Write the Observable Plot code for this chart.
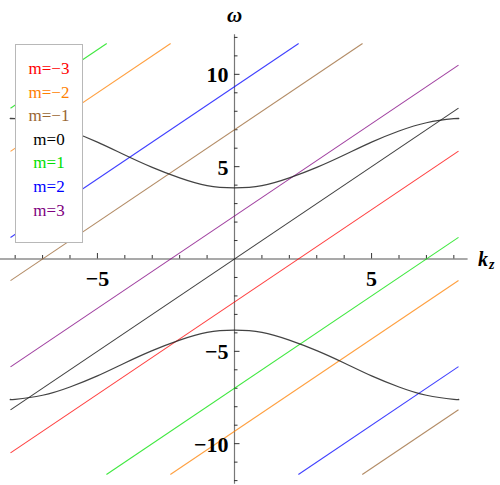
<!DOCTYPE html>
<html><head><meta charset="utf-8">
<script src="https://cdn.jsdelivr.net/npm/d3@7"></script>
<script src="https://cdn.jsdelivr.net/npm/@observablehq/plot@0.6"></script>
<style>
body{margin:0;background:#fff;}
#wrap{position:relative;width:500px;height:485px;overflow:hidden;}
#legend{position:absolute;left:15px;top:44px;width:68px;height:199px;border:1px solid #b8b8b8;background:#fff;
font-family:"Liberation Serif","DejaVu Serif",serif;font-size:17px;text-align:center;padding-top:12px;box-sizing:border-box;}
#legend div{height:23.6px;line-height:23.6px;}
</style></head><body><div id="wrap"></div>
<script>
// ranges
const kRange = [-8.17, 8.17];
const wRange = [-11.67, 11.67];
const xAxisExtent = [-9, 8.52];
const yAxisExtent = [-12.2, 12.15];
// legend / series
const mValues = [-3, -2, -1, 0, 1, 2, 3];
const mColors = ["#ff0000", "#ff8000", "#996633", "#000000", "#00e000", "#0000ff", "#800080"];
// straight lines  w = k + offset
const lineM      = [-3, -2, -2, -1, -1, 0, 1, 1, 2, 2, 3];
const lineOffset = [-2.33, -9.33, 14, 7, -16.33, 0, -7, 16.33, 9.33, -14, 2.33];
// dispersion curves
const curveK     = [-8.17, -8, -7, -6, -5, -4, -3, -2, -1, 0, 1, 2, 3, 4, 5, 6, 7, 8, 8.17];
const upperOmega = [7.6, 7.6, 7.38, 6.93, 6.33, 5.63, 4.96, 4.39, 3.97, 3.85, 3.97, 4.39, 4.96, 5.63, 6.33, 6.93, 7.38, 7.6, 7.6];
const lowerOmega = [-7.6, -7.6, -7.38, -6.93, -6.33, -5.63, -4.96, -4.39, -3.97, -3.85, -3.97, -4.39, -4.96, -5.63, -6.33, -6.93, -7.38, -7.6, -7.6];
// ticks
const xTicks = [-8, -7, -6, -5, -4, -3, -2, -1, 1, 2, 3, 4, 5, 6, 7, 8];
const yTicks = [-12, -11, -10, -9, -8, -7, -6, -5, -4, -3, -2, -1, 1, 2, 3, 4, 5, 6, 7, 8, 9, 10, 11, 12];
const xTickLabels = [-5, 5];
const yTickLabels = [-10, -5, 5, 10];

const fmt = v => v < 0 ? "\u2212" + Math.abs(v) : String(v);

const segments = lineM.map((m, i) => {
  const c = lineOffset[i];
  const k1 = Math.max(kRange[0], wRange[0] - c);
  const k2 = Math.min(kRange[1], wRange[1] - c);
  return {k1, k2, w1: k1 + c, w2: k2 + c, color: mColors[mValues.indexOf(m)]};
});
const upper = curveK.map((k, i) => ({k, w: upperOmega[i]}));
const lower = curveK.map((k, i) => ({k, w: lowerOmega[i]}));

const serif = "Liberation Serif, DejaVu Serif, serif";
const chart = Plot.plot({
  width: 500, height: 485,
  marginLeft: 10, marginRight: 42, marginTop: 43, marginBottom: 11,
  x: {domain: kRange, axis: null},
  y: {domain: wRange, axis: null},
  color: {type: "identity"},
  marks: [
    Plot.ruleY([0], {x1: xAxisExtent[0], x2: xAxisExtent[1], stroke: "#555", strokeWidth: 1.2}),
    Plot.ruleX([0], {y1: yAxisExtent[0], y2: yAxisExtent[1], stroke: "#777", strokeWidth: 1.2}),
    Plot.ruleX(xTicks.filter(d => d % 5 !== 0), {x: d => d, y1: 0, y2: 0, insetTop: -3.5, stroke: "#333"}),
    Plot.ruleX(xTicks.filter(d => d % 5 === 0), {x: d => d, y1: 0, y2: 0, insetTop: -5.5, stroke: "#333"}),
    Plot.ruleY(yTicks.filter(d => d % 5 !== 0), {y: d => d, x1: 0, x2: 0, insetRight: -3.5, stroke: "#333"}),
    Plot.ruleY(yTicks.filter(d => d % 5 === 0), {y: d => d, x1: 0, x2: 0, insetRight: -5.5, stroke: "#333"}),
    Plot.link(segments, {x1: "k1", y1: "w1", x2: "k2", y2: "w2", stroke: "color", strokeWidth: 1.1, strokeOpacity: 0.75}),
    Plot.line(upper, {x: "k", y: "w", curve: "natural", stroke: "#222", strokeWidth: 1.2, strokeOpacity: 0.85}),
    Plot.line(lower, {x: "k", y: "w", curve: "natural", stroke: "#222", strokeWidth: 1.2, strokeOpacity: 0.85}),
    Plot.text(xTickLabels, {x: d => d, y: 0, text: fmt, dy: 20, fontSize: 22, fontWeight: "bold", fontFamily: serif, fill: "#000"}),
    Plot.text(yTickLabels, {x: 0, y: d => d, text: fmt, dx: -6, dy: 1, textAnchor: "end", fontSize: 22, fontWeight: "bold", fontFamily: serif, fill: "#000"}),
    Plot.text(["\u03c9"], {x: 0, y: yAxisExtent[1], text: d => d, dy: -19, fontSize: 21, fontWeight: "bold", fontStyle: "italic", fontFamily: serif, fill: "#000"}),
    Plot.text(["k"], {x: xAxisExtent[1], y: 0, text: d => d, dx: 10, dy: 1, textAnchor: "start", fontSize: 20, fontWeight: "bold", fontStyle: "italic", fontFamily: serif, fill: "#000"}),
    Plot.text(["z"], {x: xAxisExtent[1], y: 0, text: d => d, dx: 21, dy: 6, textAnchor: "start", fontSize: 14, fontWeight: "bold", fontStyle: "italic", fontFamily: serif, fill: "#000"})
  ]
});
const wrap = document.getElementById("wrap");
wrap.appendChild(chart);
const legend = document.createElement("div");
legend.id = "legend";
mValues.forEach((m, i) => {
  const e = document.createElement("div");
  e.textContent = "m=" + fmt(m);
  e.style.color = mColors[i];
  legend.appendChild(e);
});
wrap.appendChild(legend);
</script></body></html>
